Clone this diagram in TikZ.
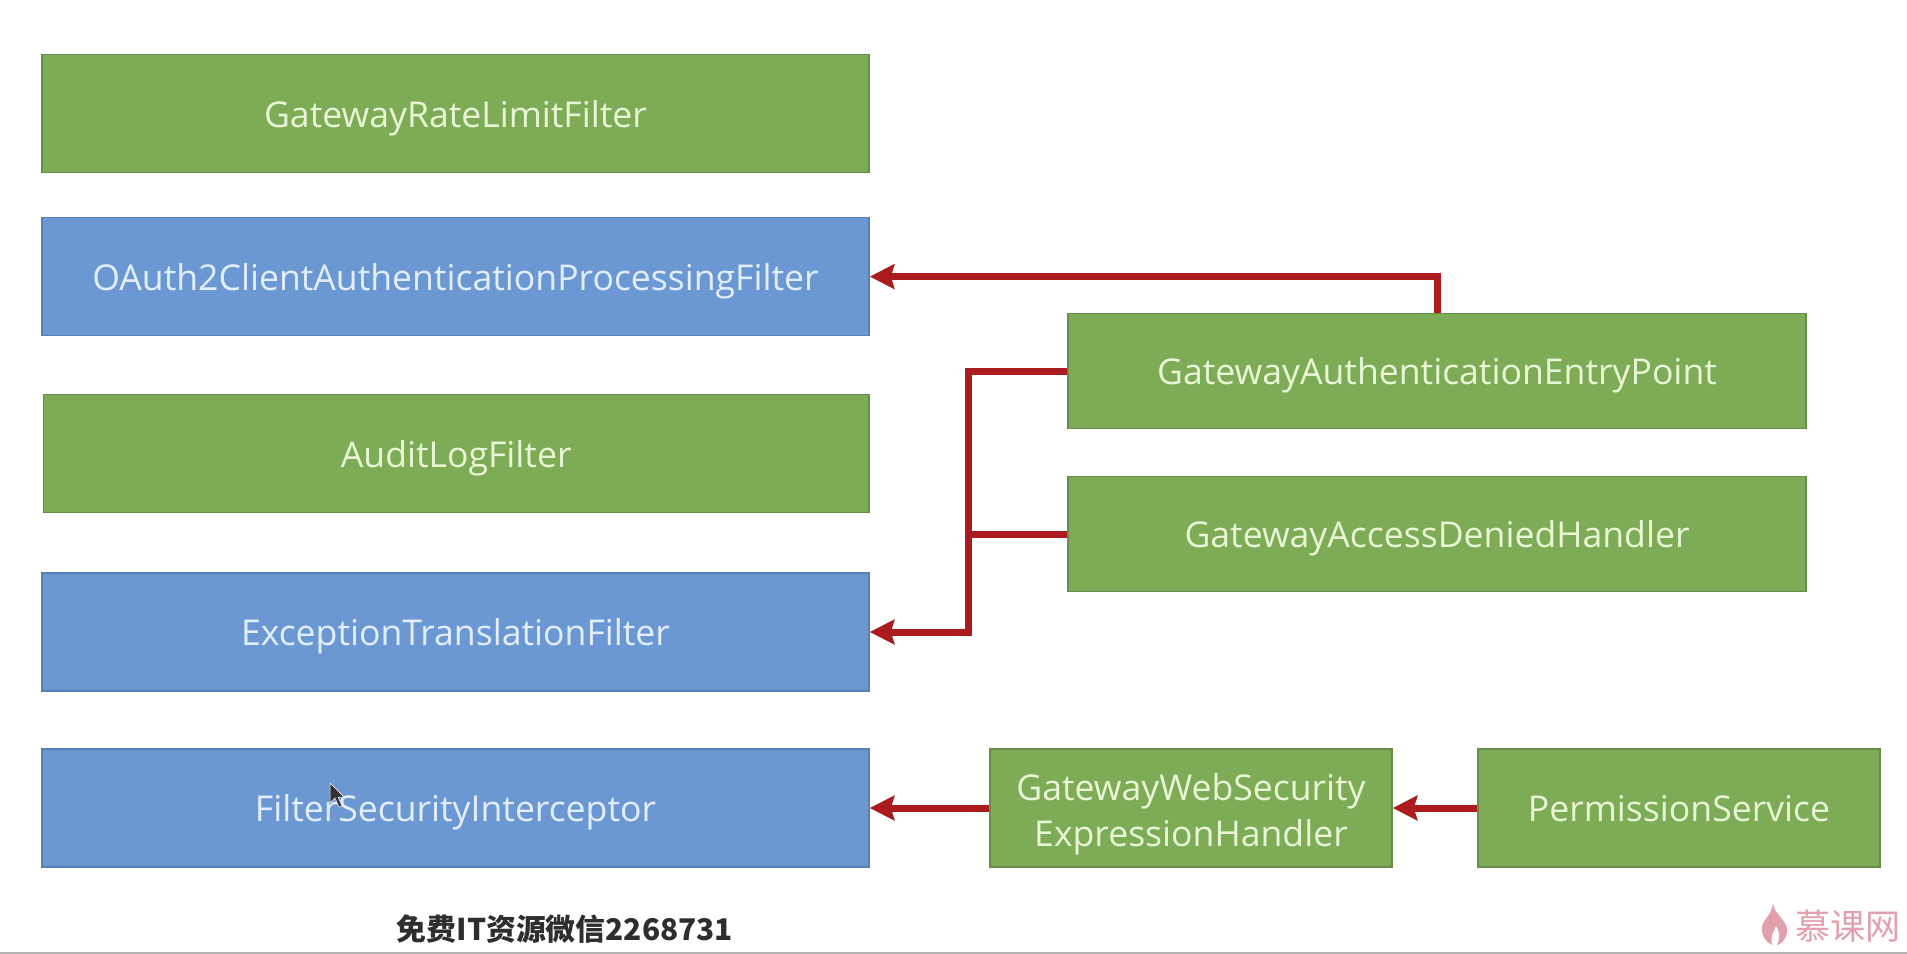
\documentclass[tikz,border=0pt]{standalone}
\usepackage{fontspec}
\setmainfont{Open Sans}
\newfontfamily\cjkfont{Noto Sans CJK SC}
\usetikzlibrary{arrows.meta}
\definecolor{boxgreen}{RGB}{125,171,86}
\definecolor{edgegreen}{RGB}{104,140,74}
\definecolor{boxblue}{RGB}{107,152,211}
\definecolor{edgeblue}{RGB}{88,128,180}
\definecolor{textgreen}{RGB}{232,246,214}
\definecolor{textblue}{RGB}{226,238,252}
\definecolor{linkred}{RGB}{172,28,30}
\definecolor{logopink}{RGB}{226,160,172}
\tikzset{
  greenbox/.style={draw=edgegreen,fill=boxgreen,text=textgreen,line width=0.06cm,inner sep=0pt,align=center,text height=31pt,text depth=0pt,font=\fontsize{40.5}{52.5}\selectfont},
  bluebox/.style={draw=edgeblue,fill=boxblue,text=textblue,line width=0.06cm,inner sep=0pt,align=center,text height=31pt,text depth=0pt,font=\fontsize{40.5}{52.5}\selectfont},
  longbox/.style={minimum width=33.08cm,minimum height=4.72cm},
  widebox/.style={minimum width=29.52cm,minimum height=4.6cm},
  smallbox/.style={minimum width=16.08cm,minimum height=4.72cm},
  link/.style={draw=linkred,line width=0.28cm},
  linkhead/.style={link,-{Stealth[length=0.98cm,width=0.98cm,inset=0.14cm]}}
}
\begin{document}
\begin{tikzpicture}[x=0.04cm,y=-0.04cm]
  \useasboundingbox (0,0) rectangle (1907,954);
  \fill[white] (0,0) rectangle (1907,954);
  \fill[black!30] (0,952) rectangle (1907,954);
  \node[greenbox,longbox] (rate) at (455.5,113.7) {GatewayRateLimitFilter};
  \node[bluebox,longbox] (oauth) at (455.5,276.6) {OAuth2ClientAuthenticationProcessingFilter};
  \node[greenbox,longbox,minimum width=33cm] (audit) at (456.2,453.5) {AuditLogFilter};
  \node[bluebox,longbox] (exception) at (455.5,632) {ExceptionTranslationFilter};
  \node[bluebox,longbox] (interceptor) at (455.5,808) {FilterSecurityInterceptor};
  \node[greenbox,widebox] (entry) at (1437,371) {GatewayAuthenticationEntryPoint};
  \node[greenbox,widebox] (denied) at (1437,534) {GatewayAccessDeniedHandler};
  \node[greenbox,smallbox,text height=88pt] (expression) at (1191,808) {GatewayWebSecurity\\ExpressionHandler};
  \node[greenbox,smallbox] (permission) at (1679,808) {PermissionService};
  \coordinate (corner) at (968,632);
  \draw[linkhead] (entry.north) |- (oauth.east);
  \draw[linkhead] (entry.west) -| (corner) -- (exception.east);
  \draw[link] (denied.west) -- (denied.west -| corner);
  \draw[linkhead] (expression.west |- interceptor.east) -- (interceptor.east);
  \draw[linkhead] (permission.west) -- (expression.east);
  % mouse pointer
  \fill[black!80,draw=white,line width=0.02cm] (330,783) -- (330,803) -- (335,798) -- (339,807)
    -- (342,806) -- (338,797) -- (344,797) -- cycle;
  \node[text=black!82,font=\cjkfont\bfseries\fontsize{34}{40}\selectfont] (notice) at (565,929) {免费IT资源微信2268731};
  % logo
  \fill[logopink] (1773,903) .. controls (1774,915) and (1788,920) .. (1787,932)
    .. controls (1786,940) and (1780,945) .. (1777,945)
    .. controls (1781,936) and (1779,930) .. (1776,926)
    .. controls (1774,932) and (1770,934) .. (1772,945)
    .. controls (1766,942) and (1761,936) .. (1762,927)
    .. controls (1763,919) and (1772,915) .. (1773,903) -- cycle;
  \node[text=logopink,font=\cjkfont\fontsize{40}{44}\selectfont] (logo) at (1848,926) {慕课网};
\end{tikzpicture}
\end{document}
